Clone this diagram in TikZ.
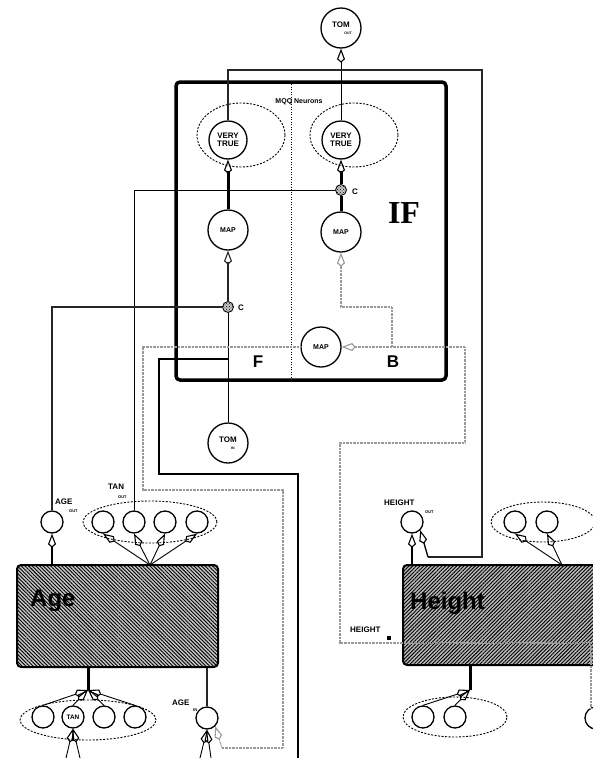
\documentclass[tikz,border=0pt]{standalone}
\usepackage{fontspec}
\setmainfont{Liberation Sans}
\newfontfamily\iffont{Liberation Serif}
\usetikzlibrary{arrows.meta,patterns,patterns.meta,shapes.geometric}
\begin{document}
\begin{tikzpicture}[x=1pt,y=-1pt,
  big/.style={circle,draw,line width=1.3pt,minimum size=40pt,inner sep=0pt,align=center,font=\fontsize{8}{8}\selectfont\bfseries},
  small/.style={circle,draw,line width=1.3pt,minimum size=22pt,inner sep=0pt},
  cnode/.style={circle,draw,line width=0.8pt,minimum size=11pt,inner sep=0pt,fill=gray!45,postaction={pattern=crosshatch dots}},
  grp/.style={line width=0.9pt,dash pattern=on 2pt off 1.5pt},
  thinl/.style={line width=0.9pt},
  midl/.style={line width=1.3pt},
  thickl/.style={line width=3pt},
  stipl/.style={line width=2.8pt,black!85},
  dotl/.style={line width=1.2pt,black!40,dash pattern=on 0.8pt off 0.6pt},
  kt/.style={-{Kite[open,length=14pt,width=8pt,line width=1.1pt]}},
  tk/.style={{Kite[open,length=14pt,width=8pt,line width=1.1pt]}-},
  lbl/.style={font=\fontsize{8}{8}\selectfont\bfseries,inner sep=0pt},
  sub/.style={font=\fontsize{4}{4}\selectfont\bfseries,inner sep=0pt},
  boxs/.style={draw,line width=2pt,rounded corners=4pt,fill=gray!45,inner sep=0pt}
]
\useasboundingbox (0,0) rectangle (593,758);

% ---------- IF block ----------
\draw[line width=3.5pt,rounded corners=4pt] (176,82) rectangle (446,380);
\draw[line width=0.8pt,dash pattern=on 1pt off 1.5pt] (291,84) -- (291,378);
\node[font=\iffont\fontsize{32}{32}\selectfont\bfseries,inner sep=0pt] (iflbl) at (404,213) {IF};
\node[font=\fontsize{17}{17}\selectfont\bfseries,inner sep=0pt] (flbl) at (258,362) {F};
\node[font=\fontsize{17}{17}\selectfont\bfseries,inner sep=0pt] (blbl) at (393,362) {B};
\node[font=\fontsize{7}{7}\selectfont\bfseries,inner sep=0pt] (mqq) at (299,102) {MQQ Neurons};

% ---------- boxes ----------
\node[boxs,minimum width=201pt,minimum height=102pt,
  postaction={pattern={Lines[angle=-45,distance=2.6pt,line width=0.9pt]}}] (agebox) at (117.5,616) {};
\node[font=\fontsize{24}{24}\selectfont\bfseries,inner sep=0pt,anchor=west] (agetxt) at (30,601) {Age};
\node[boxs,fill=gray!55,minimum width=200pt,minimum height=100pt,
  postaction={pattern={Lines[angle=45,distance=2.6pt,line width=0.9pt]}}] (heightbox) at (503,615) {};
\node[font=\fontsize{24}{24}\selectfont\bfseries,inner sep=0pt,anchor=west] (heighttxt) at (410,603) {Height};

% ---------- neurons ----------
\node[big] (tomout) at (341,28) {TOM\\[-1pt]\hspace*{14pt}{\fontsize{3.5}{4}\selectfont OUT}};
\node[big,minimum size=38pt] (vtl) at (228,140) {VERY\\TRUE};
\node[big,minimum size=38pt] (vtr) at (341,140) {VERY\\TRUE};
\node[big,font=\fontsize{7}{7}\selectfont\bfseries] (mapl) at (228,230) {MAP};
\node[big,font=\fontsize{7}{7}\selectfont\bfseries] (mapr) at (341,232) {MAP};
\node[big,font=\fontsize{7}{7}\selectfont\bfseries] (mapb) at (321,347) {MAP};
\node[cnode] (cr) at (341,190) {};
\node[cnode] (cl) at (228,307) {};
\node[lbl] (crl) at (355,192) {C};
\node[lbl] (cll) at (241,308) {C};
\node[big] (tomin) at (228,443) {TOM\\[-1pt]\hspace*{10pt}{\fontsize{3.5}{4}\selectfont IN}};

\draw[grp] (241,135) ellipse [x radius=44pt,y radius=32pt];
\draw[grp] (354,135) ellipse [x radius=44pt,y radius=32pt];

% Age top
\node[small] (ageout) at (52,522) {};
\node[small] (tan1) at (103,522) {};
\node[small] (tan2) at (134,522) {};
\node[small] (tan3) at (165,522) {};
\node[small] (tan4) at (197,522) {};
\draw[grp] (150,522) ellipse [x radius=67pt,y radius=21pt];
\node[lbl,anchor=west] (ageoutl) at (55,502) {AGE};
\node[sub,anchor=west] (ageouts) at (69,511) {OUT};
\node[lbl,anchor=west] (tanoutl) at (108,487) {TAN};
\node[sub,anchor=west] (tanouts) at (118,497) {OUT};

% Age bottom
\node[small] (b1) at (43,717) {};
\node[small,font=\fontsize{6.5}{6.5}\selectfont\bfseries] (b2) at (73,717) {TAN};
\node[small] (b3) at (104,717) {};
\node[small] (b4) at (135,717) {};
\draw[grp] (88,720) ellipse [x radius=68pt,y radius=20pt];
\node[small] (agein) at (207,718) {};
\node[lbl,anchor=west] (ageinl) at (172,703) {AGE};
\node[sub,anchor=west] (ageins) at (193,710) {IN};

% Height top
\node[small] (heightout) at (412,522) {};
\node[lbl,anchor=west] (hol) at (384,503) {HEIGHT};
\node[sub,anchor=west] (hos) at (425,512) {OUT};
\node[small] (hr1) at (515,522) {};
\node[small] (hr2) at (547,522) {};
\draw[grp] (543,522) ellipse [x radius=52pt,y radius=20pt];

% Height bottom
\node[small] (hb1) at (423,717) {};
\node[small] (hb2) at (455,717) {};
\draw[grp] (455,717) ellipse [x radius=52pt,y radius=20pt];
\node[small] (hbr) at (596,718) {};
\node[lbl,anchor=west] (hil) at (350,630) {HEIGHT};
\node[fill=black,minimum size=4pt,inner sep=0pt] (hin) at (389,638) {};

% ---------- coordinates ----------
\coordinate (ktop) at (228,70);
\coordinate (kr) at (482,70);
\coordinate (kb) at (482,557);
\coordinate (kh) at (428,557);
\coordinate (lc) at (52,307);
\coordinate (rc) at (134,190);
\coordinate (s1) at (228,359);
\coordinate (s2) at (159,359);
\coordinate (s3) at (159,474);
\coordinate (s4) at (298,474);
\coordinate (s5) at (298,758);
\coordinate (d1) at (143,347);
\coordinate (d2) at (143,490);
\coordinate (d3) at (283,490);
\coordinate (d4) at (283,748);
\coordinate (d5) at (222,748);
\coordinate (e1) at (465,347);
\coordinate (e2) at (465,443);
\coordinate (e3) at (340,443);
\coordinate (e4) at (340,643);
\coordinate (e5) at (591,643);
\coordinate (e6) at (591,708);
\coordinate (f1) at (392,347);
\coordinate (f2) at (392,307);
\coordinate (f3) at (341,307);
\coordinate (jat) at (150,565);
\coordinate (jab) at (88,690);
\coordinate (jhb) at (470,690);
\coordinate (jht) at (562,565);

% ---------- connectors ----------
\draw[thinl,kt] (vtr.north) -- (tomout.south);
\draw[stipl] (vtl.north) -- (ktop) -- (kr) -- (kb) -- (kh);
\draw[midl,kt] (kh) -- (heightout.south east);
\draw[midl,kt] (heightout.south |- heightbox.north) -- (heightout.south);

\draw[thickl] (cr) -- (mapr);
\draw[thickl,kt] (cr) -- (vtr.south);
\draw[thinl] (cr.west) -- (rc) -- (tan2.north);

\draw[thickl,kt] (mapl.north) -- (vtl.south);
\draw[stipl,kt] (cl.north) -- (mapl.south);
\draw[stipl] (cl.west) -- (lc) -- (ageout.north);
\draw[thinl] (cl.south) -- (tomin.north);
\draw[midl] (s1) -- (s2) -- (s3) -- (s4) -- (s5);

\draw[dotl] (mapb.west) -- (d1) -- (d2) -- (d3) -- (d4) -- (d5);
\draw[dotl,kt] (d5) -- (agein.south east);
\draw[dotl,tk] (mapb.east) -- (e1) -- (e2) -- (e3) -- (e4) -- (e5) -- (e6);
\draw[dotl,kt] (f1) -- (f2) -- (f3) -- (mapr.south);

% Age top fan
\draw[midl,kt] (ageout.south |- agebox.north) -- (ageout.south);
\draw[midl] (agebox.north -| jat) -- (jat);
\foreach \n in {tan1,tan2,tan3,tan4} \draw[thinl,kt] (jat) -- (\n.south);
% Age bottom fan
\draw[thickl] (agebox.south -| jab) -- (jab);
\foreach \n in {b1,b2,b3,b4} \draw[thinl,kt] (\n.north) -- (jab);
\draw[thinl,kt] (66,758) -- (b2.south);
\draw[thinl,kt] (80,758) -- (b2.south);
% Age in
\draw[stipl] (agebox.south -| agein) -- (agein.north);
\draw[thinl,kt] (200,758) -- (agein.south);
\draw[thinl,kt] (211,758) -- (agein.south);
% Height fans
\draw[thickl] (heightbox.south -| jhb) -- (jhb);
\foreach \n in {hb1,hb2} \draw[thinl,kt] (\n.north) -- (jhb);
\foreach \n in {hr1,hr2} \draw[thinl,kt] (jht) -- (\n.south);
\end{tikzpicture}
\end{document}
